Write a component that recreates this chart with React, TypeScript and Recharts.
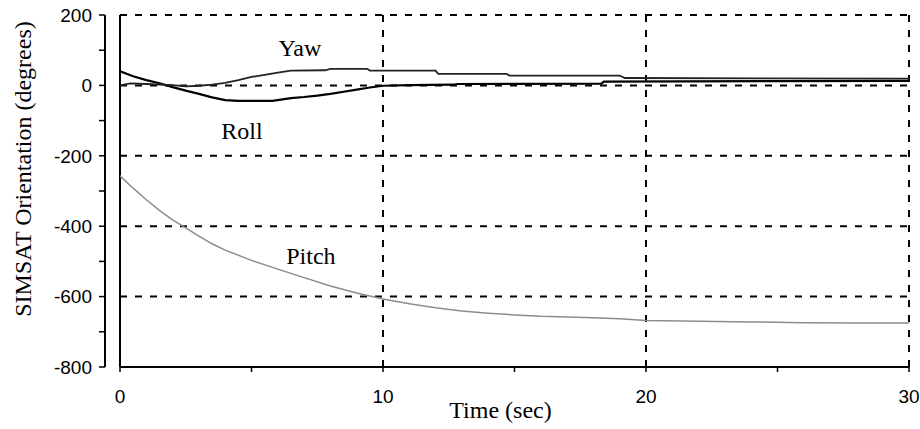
import React from 'react';
import { LineChart, Line, XAxis, YAxis, ReferenceLine, ReferenceDot, Label } from 'recharts';

// values (time in sec, orientation in degrees)
const yawTime = [0, 0.4, 1, 2, 2.5, 3, 3.5, 4, 4.5, 5, 5.5, 6, 6.5, 7.8, 8, 9.4, 9.5, 12, 12.1, 14.7, 14.8, 19, 19.2, 30];
const yawDeg = [0, 6, 4, 1, -3, -1, 2, 7, 15, 24, 30, 36, 42, 43, 47, 47, 42, 42, 33, 33, 28, 28, 21, 19];

const rollTime = [0, 0.5, 1, 1.5, 2, 2.5, 3, 3.5, 4, 4.5, 5.8, 6.5, 7, 7.5, 8, 8.5, 9, 9.5, 10, 11, 12.7, 12.8, 18.3, 18.4, 25, 30];
const rollDeg = [40, 26, 15, 6, -5, -15, -24, -34, -42, -44, -44, -36, -33, -29, -24, -18, -12, -6, -1, 1, 2, 4, 5, 11, 12, 13];

const pitchTime = [0, 0.5, 1, 1.5, 2, 2.5, 3, 3.5, 4, 5, 6, 7, 8, 9, 10, 11, 12, 13, 14, 15, 16, 17, 18, 19, 20, 22, 24, 26, 28, 30];
const pitchDeg = [-257, -292, -325, -355, -382, -405, -428, -450, -468, -497, -522, -546, -570, -590, -607, -620, -632, -641, -647, -652, -656, -658, -660, -663, -668, -670, -672, -674, -675, -675];

const xTicks = [0, 5, 10, 15, 20, 25, 30];
const yTicks = [-800, -700, -600, -500, -400, -300, -200, -100, 0, 100, 200];
const gridY = [200, 0, -200, -400, -600];
const gridX = [10, 20, 30];

const curveNames = ['Yaw', 'Roll', 'Pitch'];
const nameTime = [6.84, 4.64, 7.26];
const nameDeg = [108, -127, -484];

const toPoints = (ts: number[], vs: number[]) => ts.map((t, i) => ({ t, v: vs[i] }));
const yaw = toPoints(yawTime, yawDeg);
const roll = toPoints(rollTime, rollDeg);
const pitch = toPoints(pitchTime, pitchDeg);

const serif = '"Liberation Serif", "Times New Roman", serif';
const sans = '"Liberation Sans", Arial, sans-serif';

const YTick = (props: any) => {
  const { x, y, payload } = props;
  if (payload.value % 200 !== 0) return <g />;
  return (
    <text x={x} y={y} dy="0.355em" textAnchor="end" fontFamily={sans} fontSize={19} fill="#000">
      {payload.value}
    </text>
  );
};

const XTick = (props: any) => {
  const { x, y, payload } = props;
  if (payload.value % 10 !== 0) return <g />;
  return (
    <text x={x} y={y} dy="0.71em" textAnchor="middle" fontFamily={sans} fontSize={19} fill="#000">
      {payload.value}
    </text>
  );
};

export default function App() {
  return (
    <div style={{ position: 'absolute', left: 0, top: 0, background: '#fff' }}>
      <LineChart width={920} height={429} margin={{ top: 15, right: 11, bottom: 32, left: 0 }}>
        <XAxis
          type="number"
          dataKey="t"
          domain={[0, 30]}
          ticks={xTicks}
          interval={0}
          allowDataOverflow
          height={30}
          tick={<XTick />}
          tickSize={5}
          tickMargin={18}
          axisLine={{ stroke: '#000', strokeWidth: 2 }}
          tickLine={{ stroke: '#000', strokeWidth: 1.5 }}
        >
          <Label
            content={(p: any) => {
              const vb = p.viewBox;
              return (
                <text x={vb.x + vb.width / 2 - 14} y={vb.y + 51} textAnchor="middle" fontFamily={serif} fontSize={24} fill="#000">
                  Time (sec)
                </text>
              );
            }}
          />
        </XAxis>
        <YAxis yAxisId="data" type="number" domain={[-800, 200]} width={15} tick={false} axisLine={false} tickLine={false} allowDataOverflow />
        <YAxis
          yAxisId="frame"
          type="number"
          domain={[-800, 200]}
          ticks={yTicks}
          interval={0}
          width={105}
          tick={<YTick />}
          tickSize={6}
          tickMargin={7}
          axisLine={{ stroke: '#000', strokeWidth: 2 }}
          tickLine={{ stroke: '#000', strokeWidth: 1.5 }}
          allowDataOverflow
        >
          <Label
            content={(p: any) => {
              const vb = p.viewBox;
              const cx = vb.x + 22;
              const cy = vb.y + vb.height / 2 - 22;
              return (
                <text x={cx} y={cy} dy="0.355em" textAnchor="middle" transform={`rotate(-90 ${cx} ${cy})`} fontFamily={serif} fontSize={24} fill="#000">
                  SIMSAT Orientation (degrees)
                </text>
              );
            }}
          />
        </YAxis>

        {gridY.map((v) => (
          <ReferenceLine key={'gy' + v} y={v} yAxisId="data" stroke="#000" strokeWidth={2} strokeDasharray="7 8" />
        ))}
        {gridX.map((v) => (
          <ReferenceLine key={'gx' + v} x={v} yAxisId="data" stroke="#000" strokeWidth={2} strokeDasharray="7 8" />
        ))}
        <ReferenceLine x={0} yAxisId="data" stroke="#000" strokeWidth={2} />

        <Line yAxisId="data" data={pitch} dataKey="v" type="linear" stroke="#8c8c8c" strokeWidth={1.5} dot={false} isAnimationActive={false} />
        <Line yAxisId="data" data={roll} dataKey="v" type="linear" stroke="#000" strokeWidth={2.2} dot={false} isAnimationActive={false} />
        <Line yAxisId="data" data={yaw} dataKey="v" type="linear" stroke="#222" strokeWidth={1.8} dot={false} isAnimationActive={false} />

        {curveNames.map((name, i) => (
          <ReferenceDot
            key={name}
            x={nameTime[i]}
            y={nameDeg[i]}
            yAxisId="data"
            r={1}
            fill="none"
            stroke="none"
            label={{ value: name, position: 'center', fontFamily: serif, fontSize: 24, fill: '#000' }}
          />
        ))}
      </LineChart>
    </div>
  );
}
